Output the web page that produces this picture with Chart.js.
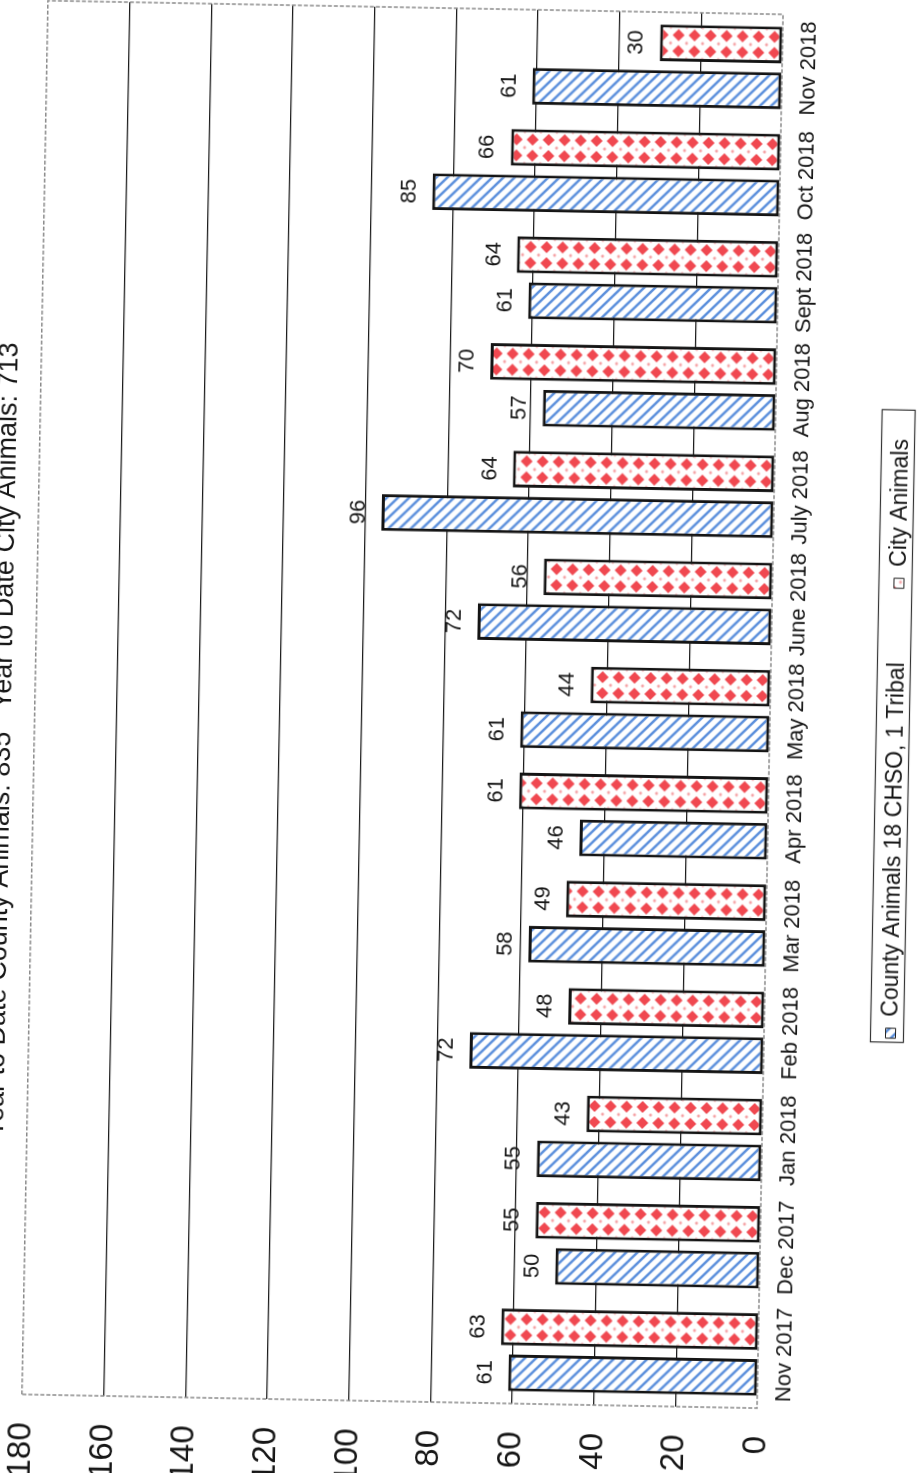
<!DOCTYPE html>
<html>
<head>
<meta charset="utf-8">
<title>Animals per month</title>
<script src="https://cdn.jsdelivr.net/npm/chart.js@4.4.1/dist/chart.umd.min.js"></script>
<style>
  html, body { margin: 0; padding: 0; background: #fff; overflow: hidden; }
  body { width: 922px; height: 1473px; position: relative; }
  /* the scanned page is turned on its side, a little crooked */
  #sheet {
    position: absolute; width: 1473px; height: 922px;
    left: -275.5px; top: 275.5px;
    transform: rotate(-88.93deg); transform-origin: 50% 50%;
  }
  #sheet canvas { position: absolute; left: -15px; top: -14px; }
</style>
</head>
<body>
<div id="sheet"><canvas id="myChart" width="1485" height="931"></canvas></div>
<script>
// data
const months = ['Nov 2017', 'Dec 2017', 'Jan 2018', 'Feb 2018', 'Mar 2018', 'Apr 2018', 'May 2018',
  'June 2018', 'July 2018', 'Aug 2018', 'Sept 2018', 'Oct 2018', 'Nov 2018'];
const countyAnimals = [61, 50, 55, 72, 58, 46, 61, 72, 96, 57, 61, 85, 61];
const cityAnimals = [63, 55, 43, 48, 49, 61, 44, 56, 64, 70, 64, 66, 30];
const seriesNames = ['County Animals 18 CHSO, 1 Tribal', 'City Animals'];
const valueTicks = [0, 20, 40, 60, 80, 100, 120, 140, 160, 180];
const chartTitle = 'Year to Date County Animals: 835   Year to Date City Animals: 713';

const CAT_PCT = 0.855;
const BAR_PCT = 0.8;
const LEGEND_SHIFT = 18;

Chart.defaults.font.family = "'Liberation Sans', Arial, sans-serif";
Chart.defaults.color = '#161616';

// fill tiles for the two series
function stripeTile() {
  const c = document.createElement('canvas');
  c.width = 11; c.height = 11;
  const g = c.getContext('2d');
  g.fillStyle = '#fff';
  g.fillRect(0, 0, 11, 11);
  g.strokeStyle = '#5b8fdc';
  g.lineWidth = 2.5;
  g.beginPath();
  for (const k of [-11, 0, 11]) {
    g.moveTo(k - 2, -2);
    g.lineTo(k + 13, 13);
  }
  g.stroke();
  return c;
}

function diamondTile() {
  const c = document.createElement('canvas');
  c.width = 16; c.height = 16;
  const g = c.getContext('2d');
  g.fillStyle = '#fff';
  g.fillRect(0, 0, 16, 16);
  g.fillStyle = '#f04850';
  g.beginPath();
  g.moveTo(8, 2); g.lineTo(14, 8); g.lineTo(8, 14); g.lineTo(2, 8);
  g.closePath();
  g.fill();
  g.fillStyle = '#f5a3a6';
  for (const [x, y] of [[0, 0], [16, 0], [0, 16], [16, 16]]) {
    g.beginPath(); g.arc(x, y, 1.6, 0, Math.PI * 2); g.fill();
  }
  return c;
}

const tiles = [stripeTile(), diamondTile()];

// one pattern per bar so the fill lines up with the bar edge
function barFill(c) {
  const chart = c.chart;
  const pat = chart.ctx.createPattern(tiles[c.datasetIndex], 'repeat');
  if (c.type !== 'data' || !chart.chartArea) {
    return c.datasetIndex === 1 ? '#f04850' : pat;
  }
  const xs = chart.scales.x;
  const catW = xs.width / months.length;
  const groupW = catW * CAT_PCT;
  const slot = groupW / 2;
  const barW = slot * BAR_PCT;
  const left = xs.getPixelForValue(c.dataIndex) - groupW / 2 + c.datasetIndex * slot + (slot - barW) / 2;
  pat.setTransform(new DOMMatrix().translate(left + 2.3, chart.chartArea.bottom));
  return pat;
}

const framePlugin = {
  id: 'frame',
  afterLayout(chart) {
    // legend sits a little right of centre on the page
    chart.legend.left += LEGEND_SHIFT;
    chart.legend.right += LEGEND_SHIFT;
  },
  beforeDatasetsDraw(chart) {
    const {ctx, chartArea: a} = chart;
    ctx.save();
    ctx.strokeStyle = '#8a8a8a';
    ctx.lineWidth = 1.5;
    ctx.setLineDash([4, 2]);
    ctx.strokeRect(a.left, a.top, a.width, a.height);
    ctx.restore();
  },
  afterDatasetsDraw(chart) {
    const ctx = chart.ctx;
    ctx.save();
    ctx.fillStyle = '#161616';
    ctx.font = "22px 'Liberation Sans', Arial, sans-serif";
    ctx.textAlign = 'center';
    ctx.textBaseline = 'alphabetic';
    chart.data.datasets.forEach((ds, i) => {
      chart.getDatasetMeta(i).data.forEach((bar, j) => {
        ctx.fillText(String(ds.data[j]), bar.x, bar.y - 17);
      });
    });
    ctx.restore();
  },
  afterDraw(chart) {
    // box round the legend
    const boxes = chart.legend.legendHitBoxes;
    if (!boxes || !boxes.length) return;
    const first = boxes[0];
    const last = boxes[boxes.length - 1];
    const mid = first.top + first.height / 2;
    const ctx = chart.ctx;
    ctx.save();
    ctx.strokeStyle = '#333';
    ctx.lineWidth = 1.2;
    ctx.strokeRect(first.left - 4, mid - 20, last.left + last.width + 29 - (first.left - 4), 33);
    ctx.restore();
  }
};

new Chart(document.getElementById('myChart'), {
  type: 'bar',
  data: {
    labels: months,
    datasets: [{
      label: seriesNames[0],
      data: countyAnimals,
      backgroundColor: barFill,
      borderColor: '#141414',
      borderWidth: 3,
      borderSkipped: false,
      categoryPercentage: CAT_PCT,
      barPercentage: BAR_PCT
    }, {
      label: seriesNames[1],
      data: cityAnimals,
      backgroundColor: barFill,
      borderColor: '#141414',
      borderWidth: 3,
      borderSkipped: false,
      categoryPercentage: CAT_PCT,
      barPercentage: BAR_PCT
    }]
  },
  options: {
    responsive: false,
    animation: false,
    layout: { padding: { left: 0, right: 5, top: 0, bottom: 0 } },
    plugins: {
      title: {
        display: true,
        text: chartTitle,
        color: '#161616',
        font: { size: 27, weight: 'normal' },
        padding: { top: 0, bottom: 15 }
      },
      legend: {
        position: 'bottom',
        labels: {
          font: { size: 23 },
          boxWidth: 10,
          boxHeight: 10,
          padding: 74,
          color: '#161616',
          generateLabels(chart) {
            const items = Chart.defaults.plugins.legend.labels.generateLabels(chart);
            items.forEach(it => { it.lineWidth = 1; it.strokeStyle = '#222'; });
            return items;
          }
        }
      },
      tooltip: { enabled: false }
    },
    scales: {
      x: {
        grid: { display: false, drawTicks: false },
        border: { display: false },
        ticks: { font: { size: 22 }, padding: 14, maxRotation: 0, autoSkip: false, color: '#161616' },
        afterFit(scale) {
          scale.paddingLeft = 0;
          scale.paddingRight = 0;
          scale.height = 41;
        }
      },
      y: {
        min: valueTicks[0],
        max: valueTicks[valueTicks.length - 1],
        border: { display: false },
        grid: {
          drawTicks: false,
          lineWidth: 1.2,
          color: c => (c.tick.value === valueTicks[0] || c.tick.value === valueTicks[valueTicks.length - 1]) ? 'rgba(0,0,0,0)' : '#1a1a1a'
        },
        ticks: {
          stepSize: valueTicks[1] - valueTicks[0],
          font: { size: 33 },
          padding: 28,
          color: '#161616'
        },
        afterFit(scale) { scale.width = 86; }
      }
    }
  },
  plugins: [framePlugin]
});
</script>
</body>
</html>
